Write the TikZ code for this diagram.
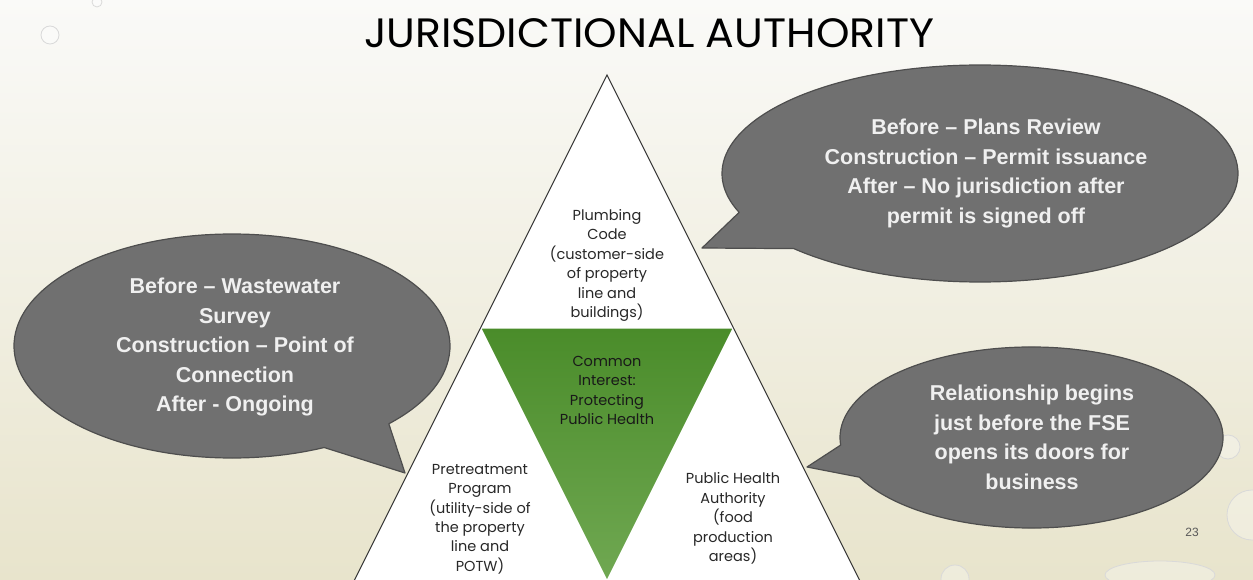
\documentclass[tikz,border=0pt]{standalone}
\usepackage{fontspec}
\setmainfont{Liberation Sans}
\newfontfamily\gothicfont{Poppins}
\usetikzlibrary{calc}

\definecolor{bubblegray}{RGB}{112,112,112}
\definecolor{bubbleedge}{RGB}{78,78,78}
\definecolor{bubbletxt}{RGB}{240,240,240}
\definecolor{leafdark}{RGB}{74,140,42}
\definecolor{leaflight}{RGB}{112,168,82}
\definecolor{paper}{RGB}{250,250,248}
\definecolor{sand}{RGB}{232,228,204}
\definecolor{inkgray}{RGB}{40,40,40}

\tikzset{
  bubble/.style={fill=bubblegray, draw=bubbleedge, line width=1.2pt, line join=round},
  bubbletext/.style={text=bubbletxt, align=center, inner sep=0pt,
    font=\fontsize{21.5}{29.5}\selectfont\bfseries},
  tritext/.style={text=inkgray, align=center, inner sep=0pt,
    font=\gothicfont\fontsize{14.5}{19.4}\selectfont},
  droplet/.style={draw=gray!30, fill=white, fill opacity=.3, line width=.8pt}
}

\begin{document}
\begin{tikzpicture}[x=1pt,y=1pt]
   \useasboundingbox (0,0) rectangle (1253,579);
   \shade[top color=paper, bottom color=sand] (0,0) rectangle (1253,579);

   % drops on the slide
   \draw[droplet] (50,544) circle(9);
   \draw[droplet] (97,577) circle(5);
   \draw[droplet] (1228,132) circle(12);
   \draw[droplet] (1252,64) circle(25);
   \draw[droplet] (1160,4) ellipse(55 and 14);
   \draw[droplet] (955,0) circle(14);

   \node[font=\gothicfont\fontsize{41}{41}\selectfont] (title) at (649,546)
      {\scalebox{1.04}[1]{JURISDICTIONAL AUTHORITY}};

   % the triangle
   \coordinate (apex) at (607,504);
   \coordinate (bl) at (354,-2);
   \coordinate (br) at (860,-2);
   \coordinate (ml) at ($(apex)!.5!(bl)$);
   \coordinate (mr) at ($(apex)!.5!(br)$);
   \coordinate (mb) at ($(bl)!.5!(br)$);
   \fill[white] (apex) -- (bl) -- (br) -- cycle;
   \shade[top color=leafdark, bottom color=leaflight, draw=white, line width=1.5pt]
      (ml) -- (mr) -- (mb) -- cycle;
   \draw[black!80, line width=1pt] (apex) -- (bl) -- (br) -- cycle;

   \node[tritext] (plumbing) at (607,313.5)
      {Plumbing\\Code\\(customer-side\\of property\\line and\\buildings)};
   \node[tritext, text=black!90] (common) at (607,188.5)
      {Common\\Interest:\\Protecting\\Public Health};
   \node[tritext] (pretreat) at (480,60)
      {Pretreatment\\Program\\(utility-side of\\the property\\line and\\POTW)};
   \node[tritext] (publichealth) at (733,60.5)
      {Public Health\\Authority\\(food\\production\\areas)};

   % callouts
   \begin{scope}[shift={(980,405.5)}]
      \coordinate (trtip) at (-278,-74.5);
      \draw[bubble] (223.8:258 and 108.5)
         arc[start angle=223.8, end angle=561, x radius=258, y radius=108.5]
         -- (trtip) -- cycle;
      \node[bubbletext] (trtext) at (6,0)
         {Before -- Plans Review\\Construction -- Permit issuance\\After -- No jurisdiction after\\permit is signed off};
   \end{scope}

   \begin{scope}[shift={(232,233)}]
      \coordinate (lftip) at (173,-127);
      \draw[bubble] (-44:218 and 112)
         arc[start angle=-44, end angle=295, x radius=218, y radius=112]
         -- (lftip) -- cycle;
      \node[bubbletext] (lftext) at (3,-1)
         {Before -- Wastewater\\Survey\\Construction -- Point of\\Connection\\After - Ongoing};
   \end{scope}

   \begin{scope}[shift={(1031.5,141.5)}]
      \coordinate (brtip) at (-224.5,-29.5);
      \draw[bubble] (206:191.5 and 90.5)
         arc[start angle=206, end angle=544.8, x radius=191.5, y radius=90.5]
         -- (brtip) -- cycle;
      \node[bubbletext] (brtext) at (0.5,0)
         {Relationship begins\\just before the FSE\\opens its doors for\\business};
   \end{scope}

   \node[font=\fontsize{12}{12}\selectfont, text=black!65] (pagenum) at (1192,47) {23};
\end{tikzpicture}
\end{document}
